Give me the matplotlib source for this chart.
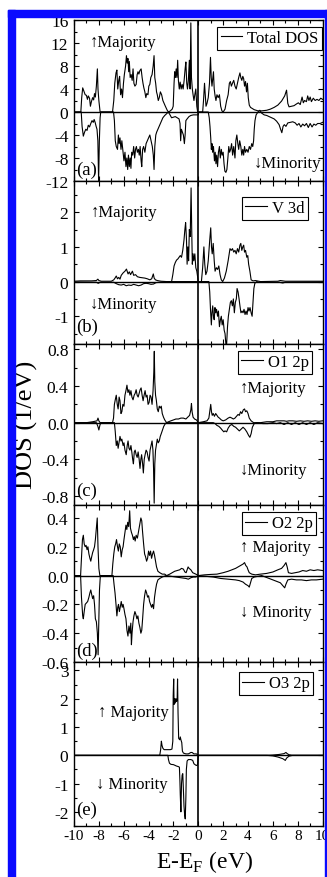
"""Spin-resolved DOS panels (total, V 3d, O1/O2/O3 2p)."""
import matplotlib
matplotlib.use("Agg")
import matplotlib.pyplot as plt
from matplotlib.patches import Rectangle
from matplotlib.ticker import MultipleLocator

plt.rcParams['font.family'] = ['Liberation Serif', 'DejaVu Serif']
plt.rcParams['mathtext.fontset'] = 'custom'
plt.rcParams['mathtext.rm'] = 'Liberation Serif'
plt.rcParams['axes.unicode_minus'] = False

# ---- data: (E - E_F [eV], DOS [1/eV]) ----
total_up = [(-10.0, 0), (-9.45, 0), (-9.38, 2.5), (-9.3, 4.2), (-9.2, 3.6), (-9.1, 3.0), (-9.0, 2.9),
            (-8.92, 2.2), (-8.85, 2.8), (-8.75, 2.4), (-8.68, 1.0), (-8.6, 1.8), (-8.5, 2.5), (-8.42, 2.1),
            (-8.35, 3.2), (-8.28, 2.6), (-8.2, 4.5), (-8.12, 7.5), (-8.07, 4.0), (-8.0, 2.0), (-7.9, 0),
            (-6.9, 0), (-6.8, 2.0), (-6.72, 5.0), (-6.62, 6.8), (-6.55, 7.3), (-6.48, 4.0), (-6.4, 5.5),
            (-6.33, 6.2), (-6.25, 3.0), (-6.17, 4.0), (-6.1, 2.5), (-6.02, 5.0), (-5.95, 6.5), (-5.85, 8.0),
            (-5.78, 9.8), (-5.72, 8.5), (-5.66, 9.3), (-5.6, 7.0), (-5.55, 8.8), (-5.48, 6.0), (-5.4, 6.5),
            (-5.32, 5.5), (-5.25, 7.5), (-5.18, 5.0), (-5.1, 4.5), (-5.0, 4.8), (-4.92, 6.5), (-4.85, 7.0),
            (-4.78, 6.6), (-4.7, 7.2), (-4.6, 7.5), (-4.52, 6.0), (-4.45, 5.0), (-4.38, 4.2), (-4.3, 3.5),
            (-4.22, 2.5), (-4.15, 3.2), (-4.05, 3.0), (-3.98, 4.5), (-3.9, 4.8), (-3.82, 6.0), (-3.72, 6.5),
            (-3.63, 8.0), (-3.56, 9.8), (-3.5, 6.0), (-3.43, 5.0), (-3.36, 3.5), (-3.3, 3.0), (-3.22, 2.0),
            (-3.14, 2.5), (-3.05, 3.5), (-2.95, 3.0), (-2.85, 2.0), (-2.75, 1.5), (-2.65, 1.0), (-2.5, 0.3),
            (-2.4, 0.0), (-2.25, 0.2), (-2.1, 0.5), (-2.02, 1.0), (-1.95, 5.0), (-1.9, 7.0), (-1.84, 6.0),
            (-1.78, 7.5), (-1.72, 6.0), (-1.66, 9.0), (-1.6, 5.5), (-1.53, 4.0), (-1.46, 5.2), (-1.38, 4.0),
            (-1.3, 4.8), (-1.22, 4.0), (-1.14, 5.5), (-1.06, 7.5), (-1.0, 8.7), (-0.93, 5.0), (-0.87, 4.0),
            (-0.8, 5.5), (-0.72, 9.0), (-0.66, 4.0), (-0.6, 15.5), (-0.55, 6.0), (-0.48, 4.0), (-0.42, 3.0),
            (-0.35, 2.0), (-0.28, 3.0), (-0.2, 4.0), (-0.12, 1.0), (-0.05, 0.0), (0.35, 0), (0.42, 2.0),
            (0.5, 5.0), (0.56, 3.0), (0.62, 1.0), (0.7, 1.5), (0.8, 2.5), (0.9, 5.0), (0.98, 9.5),
            (1.04, 6.0), (1.1, 4.5), (1.15, 5.5), (1.22, 7.0), (1.28, 4.0), (1.35, 2.8), (1.42, 2.0),
            (1.5, 3.0), (1.6, 2.5), (1.7, 3.0), (1.8, 1.0), (1.9, 0.2), (2.0, 0.0), (2.15, 0.5), (2.28, 2.0),
            (2.4, 3.0), (2.5, 5.0), (2.58, 5.3), (2.66, 4.5), (2.75, 5.0), (2.85, 5.5), (2.95, 4.5),
            (3.05, 4.0), (3.15, 5.0), (3.25, 6.0), (3.35, 6.8), (3.42, 6.0), (3.5, 5.5), (3.58, 6.2),
            (3.65, 5.8), (3.72, 4.5), (3.8, 5.3), (3.88, 3.5), (3.95, 5.0), (4.02, 2.5), (4.1, 1.2),
            (4.2, 0.8), (4.35, 0.6), (4.5, 0.4), (4.8, 0.2), (5.1, 0.2), (5.5, 0.3), (5.8, 0.5), (6.1, 0.8),
            (6.4, 1.2), (6.7, 1.9), (6.95, 2.8), (7.1, 3.8), (7.2, 1.5), (7.3, 0.9), (7.5, 1.0), (7.7, 1.1),
            (7.9, 1.4), (8.05, 1.6), (8.2, 1.3), (8.35, 2.6), (8.45, 1.6), (8.55, 2.0), (8.7, 1.8),
            (8.8, 2.8), (8.9, 2.0), (9.0, 2.6), (9.1, 1.8), (9.25, 2.4), (9.4, 2.0), (9.55, 2.2),
            (9.7, 2.0), (9.85, 2.4), (10.0, 2.2)]

total_dn = [(-10.0, 0), (-9.42, 0), (-9.35, -2.5), (-9.25, -4.2), (-9.15, -3.5), (-9.05, -3.0),
            (-8.95, -3.2), (-8.85, -2.3), (-8.75, -2.6), (-8.65, -2.0), (-8.55, -1.5), (-8.45, -1.8),
            (-8.38, -1.3), (-8.3, -1.8), (-8.22, -2.5), (-8.15, -3.0), (-8.08, -5.0), (-8.02, -12.0),
            (-7.96, -5.0), (-7.9, -1.0), (-7.85, 0), (-6.82, 0), (-6.75, -1.5), (-6.68, -5.0), (-6.6, -6.0),
            (-6.5, -6.5), (-6.43, -4.0), (-6.37, -5.5), (-6.3, -4.5), (-6.22, -6.5), (-6.15, -5.0),
            (-6.05, -7.0), (-5.98, -8.5), (-5.9, -7.0), (-5.82, -9.5), (-5.75, -8.0), (-5.68, -10.0),
            (-5.62, -7.5), (-5.55, -9.5), (-5.48, -8.0), (-5.42, -9.8), (-5.36, -7.0), (-5.28, -7.5),
            (-5.2, -6.0), (-5.12, -8.0), (-5.05, -6.5), (-4.98, -6.0), (-4.9, -7.0), (-4.82, -6.5),
            (-4.75, -7.5), (-4.68, -6.0), (-4.6, -8.5), (-4.55, -9.5), (-4.48, -6.5), (-4.4, -6.0),
            (-4.3, -7.0), (-4.2, -5.5), (-4.1, -5.0), (-4.0, -4.5), (-3.9, -4.0), (-3.8, -5.0), (-3.7, -6.0),
            (-3.62, -7.5), (-3.56, -10.0), (-3.5, -6.0), (-3.42, -4.0), (-3.35, -3.5), (-3.25, -3.0),
            (-3.15, -2.5), (-3.05, -2.0), (-2.95, -1.5), (-2.85, -1.0), (-2.7, -0.6), (-2.55, -0.3),
            (-2.42, 0.0), (-2.3, -0.4), (-2.15, -1.0), (-2.0, -0.9), (-1.85, -0.8), (-1.7, -1.0),
            (-1.55, -1.2), (-1.47, -2.0), (-1.42, -5.0), (-1.36, -3.0), (-1.28, -3.5), (-1.2, -4.0),
            (-1.12, -5.5), (-1.06, -4.0), (-1.0, -1.5), (-0.9, -1.2), (-0.75, -0.8), (-0.6, -0.6),
            (-0.4, -0.5), (-0.2, -0.5), (0.0, -0.5), (0.02, 0), (0.8, 0), (0.88, -1.0), (0.94, -2.5),
            (1.0, -4.5), (1.05, -6.5), (1.1, -5.5), (1.15, -7.0), (1.22, -6.0), (1.3, -8.5), (1.36, -7.0),
            (1.42, -9.0), (1.48, -7.5), (1.55, -9.5), (1.62, -7.0), (1.7, -6.0), (1.77, -8.0), (1.85, -6.5),
            (1.92, -7.5), (2.0, -7.0), (2.07, -9.0), (2.14, -10.3), (2.22, -10.5), (2.3, -10.0),
            (2.38, -8.0), (2.45, -6.0), (2.52, -7.0), (2.6, -6.5), (2.68, -5.5), (2.76, -7.5), (2.85, -6.0),
            (2.95, -8.0), (3.02, -5.0), (3.1, -4.0), (3.18, -5.5), (3.25, -6.5), (3.33, -5.0), (3.42, -6.0),
            (3.5, -7.5), (3.58, -6.5), (3.65, -7.5), (3.72, -6.0), (3.8, -7.0), (3.9, -6.5), (4.0, -7.0),
            (4.1, -6.0), (4.2, -6.5), (4.3, -5.5), (4.38, -6.0), (4.45, -5.0), (4.5, -3.0), (4.56, -1.5),
            (4.65, -0.5), (4.8, 0.0), (4.95, 0.3), (5.1, -0.2), (5.3, -0.5), (5.5, -0.6), (5.7, -0.8),
            (5.9, -1.0), (6.1, -1.2), (6.3, -1.6), (6.5, -2.2), (6.62, -3.0), (6.72, -3.6), (6.82, -2.5),
            (6.92, -2.2), (7.05, -2.5), (7.2, -1.9), (7.4, -1.8), (7.6, -1.7), (7.8, -1.9), (7.95, -2.3),
            (8.1, -2.0), (8.25, -2.6), (8.4, -2.1), (8.55, -2.4), (8.7, -2.0), (8.85, -2.7), (9.0, -2.0),
            (9.15, -2.6), (9.3, -2.1), (9.45, -2.3), (9.6, -2.0), (9.8, -2.0), (10.0, -1.8)]

v3d_up = [(-10.0, 0.01), (-9.5, 0.02), (-8.6, 0.02), (-8.2, 0.03), (-8.08, 0.07), (-8.0, 0.03),
          (-7.8, 0.01), (-7.0, 0.01), (-6.8, 0.05), (-6.7, 0.1), (-6.6, 0.16), (-6.5, 0.08), (-6.4, 0.12),
          (-6.3, 0.07), (-6.2, 0.18), (-6.05, 0.25), (-5.9, 0.3), (-5.78, 0.36), (-5.65, 0.22),
          (-5.55, 0.28), (-5.45, 0.2), (-5.3, 0.3), (-5.2, 0.18), (-5.05, 0.2), (-4.9, 0.14), (-4.7, 0.12),
          (-4.5, 0.11), (-4.3, 0.1), (-4.1, 0.08), (-3.9, 0.05), (-3.75, 0.08), (-3.62, 0.22),
          (-3.55, 0.1), (-3.45, 0.05), (-3.3, 0.03), (-3.0, 0.01), (-2.55, 0.0), (-2.15, 0.0),
          (-2.05, 0.2), (-1.95, 0.45), (-1.85, 0.55), (-1.75, 0.62), (-1.65, 0.65), (-1.55, 0.7),
          (-1.45, 0.75), (-1.35, 0.7), (-1.25, 0.9), (-1.15, 1.2), (-1.08, 1.5), (-1.02, 1.7),
          (-0.95, 1.2), (-0.9, 0.5), (-0.84, 1.0), (-0.78, 0.6), (-0.72, 1.5), (-0.65, 1.3), (-0.58, 2.7),
          (-0.53, 1.5), (-0.48, 0.5), (-0.42, 0.8), (-0.36, 0.6), (-0.28, 0.8), (-0.2, 0.4), (-0.12, 0.3),
          (0.0, 0.0), (0.25, 0.0), (0.35, 0.4), (0.45, 1.0), (0.52, 0.5), (0.6, 0.2), (0.7, 0.3),
          (0.8, 0.6), (0.92, 1.2), (1.0, 1.55), (1.06, 1.0), (1.12, 0.8), (1.2, 1.1), (1.28, 0.6),
          (1.35, 0.3), (1.45, 0.4), (1.55, 0.35), (1.65, 0.45), (1.75, 0.2), (1.85, 0.05), (1.96, 0.0),
          (2.1, 0.1), (2.25, 0.3), (2.4, 0.6), (2.55, 0.95), (2.65, 0.9), (2.75, 0.95), (2.85, 0.85),
          (2.95, 0.9), (3.05, 0.8), (3.15, 0.95), (3.25, 0.85), (3.35, 1.05), (3.42, 1.1), (3.5, 0.9),
          (3.58, 1.0), (3.65, 1.05), (3.72, 0.85), (3.8, 0.9), (3.9, 0.7), (3.98, 0.75), (4.05, 0.5),
          (4.15, 0.3), (4.25, 0.05), (4.4, 0.02), (4.6, 0.03), (5.0, 0.0), (6.4, 0.01), (6.6, 0.03),
          (6.8, 0.02), (7.0, 0.01), (8.0, 0.01), (10.0, 0.01)]

v3d_dn = [(-10.0, -0.01), (-8.2, -0.02), (-8.05, -0.05), (-7.9, -0.02), (-6.8, -0.02), (-6.6, -0.06),
          (-6.4, -0.09), (-6.2, -0.1), (-6.0, -0.08), (-5.8, -0.12), (-5.6, -0.1), (-5.4, -0.11),
          (-5.2, -0.08), (-5.0, -0.1), (-4.8, -0.12), (-4.6, -0.1), (-4.4, -0.06), (-4.2, -0.05),
          (-4.0, -0.06), (-3.8, -0.08), (-3.6, -0.07), (-3.4, -0.03), (-3.1, -0.02), (-2.5, 0.0),
          (0.0, 0.0), (0.85, 0.0), (0.92, -0.3), (0.98, -0.8), (1.05, -1.25), (1.1, -0.9), (1.16, -0.7),
          (1.22, -1.0), (1.28, -1.1), (1.34, -0.75), (1.4, -0.9), (1.47, -0.8), (1.55, -1.0),
          (1.62, -0.85), (1.7, -1.3), (1.78, -1.1), (1.85, -1.0), (1.92, -1.25), (2.0, -1.1),
          (2.08, -1.4), (2.15, -1.5), (2.22, -1.8), (2.28, -1.8), (2.35, -1.3), (2.42, -1.0), (2.5, -0.8),
          (2.58, -0.6), (2.66, -0.55), (2.74, -0.7), (2.82, -0.5), (2.9, -0.9), (2.98, -0.6),
          (3.06, -0.5), (3.12, -0.2), (3.2, -0.3), (3.28, -0.5), (3.35, -0.7), (3.43, -0.9),
          (3.52, -0.85), (3.6, -0.9), (3.68, -0.8), (3.76, -0.95), (3.84, -0.85), (3.92, -0.95),
          (4.0, -0.75), (4.08, -0.85), (4.16, -0.75), (4.25, -0.9), (4.33, -1.0), (4.4, -0.6),
          (4.47, -0.2), (4.55, -0.05), (4.7, 0.0), (4.85, -0.02), (5.5, -0.02), (6.5, -0.02),
          (6.8, -0.04), (7.0, -0.02), (10.0, -0.01)]

o1_up = [(-10.0, 0.0), (-9.0, 0.0), (-8.5, 0.01), (-8.15, 0.02), (-8.07, 0.05), (-8.0, 0.02), (-7.9, 0.0),
         (-6.9, 0.0), (-6.82, 0.05), (-6.75, 0.2), (-6.68, 0.25), (-6.6, 0.3), (-6.52, 0.2), (-6.45, 0.15),
         (-6.37, 0.28), (-6.3, 0.24), (-6.22, 0.1), (-6.15, 0.12), (-6.07, 0.2), (-5.98, 0.18),
         (-5.9, 0.3), (-5.82, 0.35), (-5.74, 0.41), (-5.66, 0.33), (-5.58, 0.36), (-5.5, 0.3),
         (-5.42, 0.35), (-5.34, 0.28), (-5.25, 0.25), (-5.16, 0.3), (-5.08, 0.32), (-5.0, 0.36),
         (-4.92, 0.3), (-4.84, 0.28), (-4.76, 0.32), (-4.68, 0.36), (-4.6, 0.38), (-4.52, 0.3),
         (-4.44, 0.24), (-4.36, 0.3), (-4.28, 0.35), (-4.2, 0.28), (-4.12, 0.3), (-4.04, 0.2),
         (-3.96, 0.22), (-3.88, 0.3), (-3.8, 0.28), (-3.72, 0.2), (-3.64, 0.35), (-3.58, 0.55),
         (-3.54, 0.78), (-3.5, 0.45), (-3.44, 0.3), (-3.38, 0.25), (-3.3, 0.15), (-3.22, 0.12),
         (-3.14, 0.18), (-3.06, 0.16), (-2.98, 0.18), (-2.9, 0.1), (-2.8, 0.06), (-2.7, 0.03),
         (-2.55, 0.0), (-2.4, 0.01), (-2.2, 0.02), (-2.0, 0.03), (-1.8, 0.04), (-1.6, 0.04), (-1.4, 0.05),
         (-1.2, 0.05), (-1.0, 0.04), (-0.85, 0.06), (-0.7, 0.08), (-0.6, 0.14), (-0.55, 0.21),
         (-0.5, 0.12), (-0.42, 0.06), (-0.3, 0.04), (-0.15, 0.03), (0.0, 0.0), (0.4, 0.01), (0.7, 0.02),
         (0.85, 0.05), (0.95, 0.15), (1.0, 0.2), (1.06, 0.12), (1.12, 0.08), (1.2, 0.1), (1.3, 0.07),
         (1.4, 0.1), (1.5, 0.08), (1.6, 0.06), (1.7, 0.05), (1.85, 0.03), (2.0, 0.02), (2.2, 0.03),
         (2.4, 0.05), (2.55, 0.06), (2.7, 0.05), (2.82, 0.04), (2.95, 0.05), (3.08, 0.07), (3.2, 0.09),
         (3.3, 0.08), (3.4, 0.12), (3.5, 0.1), (3.62, 0.14), (3.72, 0.15), (3.8, 0.12), (3.9, 0.13),
         (4.0, 0.1), (4.1, 0.05), (4.25, 0.02), (4.45, 0.0), (5.0, 0.0), (5.5, 0.01), (6.0, 0.01),
         (6.3, 0.02), (6.6, 0.02), (6.9, 0.02), (7.1, 0.015), (7.3, 0.02), (7.6, 0.02), (7.9, 0.015),
         (8.2, 0.02), (8.5, 0.015), (8.8, 0.02), (9.1, 0.015), (9.4, 0.02), (9.7, 0.015), (10.0, 0.02)]

o1_dn = [(-10.0, 0), (-8.2, 0), (-8.08, -0.04), (-8.0, -0.08), (-7.92, -0.03), (-7.85, 0), (-6.75, 0),
         (-6.68, -0.1), (-6.6, -0.25), (-6.52, -0.2), (-6.45, -0.28), (-6.38, -0.22), (-6.3, -0.15),
         (-6.22, -0.2), (-6.15, -0.18), (-6.05, -0.25), (-5.98, -0.22), (-5.9, -0.3), (-5.8, -0.35),
         (-5.72, -0.25), (-5.65, -0.2), (-5.58, -0.28), (-5.5, -0.3), (-5.42, -0.25), (-5.35, -0.32),
         (-5.28, -0.4), (-5.22, -0.45), (-5.15, -0.32), (-5.08, -0.3), (-5.0, -0.35), (-4.92, -0.38),
         (-4.84, -0.32), (-4.76, -0.4), (-4.69, -0.5), (-4.62, -0.4), (-4.56, -0.35), (-4.48, -0.45),
         (-4.42, -0.55), (-4.35, -0.4), (-4.28, -0.35), (-4.2, -0.3), (-4.12, -0.32), (-4.04, -0.38),
         (-3.96, -0.42), (-3.88, -0.3), (-3.8, -0.25), (-3.72, -0.2), (-3.65, -0.3), (-3.6, -0.5),
         (-3.55, -0.88), (-3.5, -0.45), (-3.44, -0.3), (-3.38, -0.25), (-3.3, -0.18), (-3.22, -0.22),
         (-3.14, -0.2), (-3.06, -0.15), (-2.98, -0.12), (-2.88, -0.08), (-2.78, -0.04), (-2.65, -0.01),
         (-2.55, 0.0), (0.0, 0.0), (1.2, 0.0), (1.35, -0.01), (1.5, -0.03), (1.65, -0.04), (1.8, -0.06),
         (1.92, -0.08), (2.05, -0.1), (2.15, -0.09), (2.28, -0.1), (2.4, -0.06), (2.55, -0.03),
         (2.7, -0.02), (2.85, -0.04), (3.0, -0.05), (3.15, -0.07), (3.3, -0.09), (3.45, -0.07),
         (3.6, -0.05), (3.75, -0.07), (3.9, -0.1), (4.05, -0.14), (4.15, -0.16), (4.25, -0.12),
         (4.35, -0.05), (4.5, -0.01), (4.7, 0.0), (5.2, -0.01), (5.6, -0.01), (6.0, 0.0), (6.3, -0.01),
         (6.6, 0.0), (6.9, -0.02), (7.2, 0.0), (7.5, -0.02), (7.8, 0.0), (8.1, -0.02), (8.4, 0.0),
         (8.7, -0.02), (9.0, 0.0), (9.3, -0.02), (9.6, 0.0), (10.0, -0.01)]

o2_up = [(-10.0, 0), (-9.47, 0), (-9.4, 0.12), (-9.32, 0.25), (-9.25, 0.28), (-9.18, 0.22), (-9.1, 0.2),
         (-9.03, 0.21), (-8.95, 0.18), (-8.88, 0.2), (-8.8, 0.15), (-8.72, 0.12), (-8.65, 0.1),
         (-8.58, 0.13), (-8.5, 0.16), (-8.42, 0.18), (-8.35, 0.2), (-8.28, 0.25), (-8.2, 0.33),
         (-8.13, 0.4), (-8.07, 0.2), (-8.0, 0.05), (-7.92, 0.0), (-6.95, 0.0), (-6.88, 0.08), (-6.8, 0.15),
         (-6.72, 0.2), (-6.65, 0.22), (-6.58, 0.25), (-6.5, 0.2), (-6.43, 0.17), (-6.36, 0.22),
         (-6.28, 0.2), (-6.2, 0.13), (-6.12, 0.18), (-6.05, 0.2), (-5.98, 0.25), (-5.9, 0.3),
         (-5.82, 0.35), (-5.75, 0.32), (-5.68, 0.37), (-5.6, 0.34), (-5.52, 0.45), (-5.46, 0.33),
         (-5.38, 0.3), (-5.3, 0.28), (-5.22, 0.25), (-5.15, 0.27), (-5.08, 0.24), (-5.0, 0.28),
         (-4.9, 0.26), (-4.82, 0.3), (-4.72, 0.35), (-4.62, 0.4), (-4.55, 0.38), (-4.48, 0.3),
         (-4.4, 0.22), (-4.32, 0.15), (-4.24, 0.13), (-4.16, 0.1), (-4.08, 0.12), (-4.0, 0.17),
         (-3.92, 0.14), (-3.84, 0.17), (-3.76, 0.12), (-3.68, 0.15), (-3.6, 0.17), (-3.52, 0.14),
         (-3.44, 0.1), (-3.36, 0.06), (-3.25, 0.03), (-3.1, 0.02), (-2.9, 0.01), (-2.7, 0.01),
         (-2.55, 0.0), (-2.3, 0.01), (-2.1, 0.02), (-1.9, 0.03), (-1.7, 0.035), (-1.5, 0.04),
         (-1.35, 0.05), (-1.2, 0.045), (-1.08, 0.025), (-0.98, 0.02), (-0.9, 0.04), (-0.82, 0.06),
         (-0.74, 0.05), (-0.6, 0.04), (-0.45, 0.02), (-0.2, 0.01), (0.0, 0.0), (0.5, 0.005), (1.0, 0.008),
         (1.5, 0.01), (2.0, 0.02), (2.4, 0.03), (2.7, 0.04), (3.0, 0.05), (3.2, 0.06), (3.4, 0.07),
         (3.6, 0.08), (3.72, 0.09), (3.82, 0.07), (3.92, 0.06), (4.0, 0.04), (4.1, 0.02), (4.3, 0.01),
         (4.6, 0.005), (5.0, 0.01), (5.5, 0.015), (6.0, 0.025), (6.4, 0.04), (6.7, 0.05), (6.9, 0.07),
         (7.05, 0.09), (7.15, 0.06), (7.25, 0.02), (7.5, 0.015), (7.8, 0.02), (8.1, 0.025), (8.4, 0.035),
         (8.7, 0.03), (9.0, 0.04), (9.3, 0.035), (9.6, 0.04), (10.0, 0.035)]

o2_dn = [(-10.0, 0), (-9.47, 0), (-9.4, -0.15), (-9.3, -0.28), (-9.25, -0.3), (-9.18, -0.25),
         (-9.1, -0.2), (-9.0, -0.19), (-8.9, -0.18), (-8.8, -0.15), (-8.72, -0.12), (-8.65, -0.1),
         (-8.58, -0.13), (-8.5, -0.16), (-8.42, -0.14), (-8.35, -0.2), (-8.28, -0.3), (-8.2, -0.32),
         (-8.12, -0.4), (-8.06, -0.55), (-8.0, -0.3), (-7.95, -0.1), (-7.88, 0.0), (-6.85, 0.0),
         (-6.78, -0.06), (-6.7, -0.12), (-6.62, -0.2), (-6.55, -0.28), (-6.48, -0.22), (-6.42, -0.2),
         (-6.35, -0.25), (-6.28, -0.22), (-6.2, -0.18), (-6.12, -0.22), (-6.05, -0.2), (-5.98, -0.23),
         (-5.9, -0.27), (-5.82, -0.3), (-5.74, -0.38), (-5.66, -0.42), (-5.58, -0.35), (-5.5, -0.4),
         (-5.43, -0.33), (-5.38, -0.48), (-5.33, -0.4), (-5.25, -0.32), (-5.18, -0.28), (-5.1, -0.25),
         (-5.02, -0.27), (-4.94, -0.3), (-4.86, -0.28), (-4.78, -0.33), (-4.7, -0.36), (-4.62, -0.4),
         (-4.55, -0.38), (-4.48, -0.3), (-4.4, -0.2), (-4.32, -0.14), (-4.24, -0.1), (-4.16, -0.12),
         (-4.08, -0.15), (-4.0, -0.14), (-3.92, -0.18), (-3.84, -0.2), (-3.76, -0.22), (-3.68, -0.2),
         (-3.6, -0.23), (-3.52, -0.15), (-3.44, -0.1), (-3.36, -0.06), (-3.25, -0.03), (-3.1, -0.02),
         (-2.9, -0.01), (-2.6, 0.0), (-2.2, -0.005), (-1.8, -0.01), (-1.4, -0.015), (-1.0, -0.02),
         (-0.8, -0.025), (-0.6, -0.015), (-0.4, -0.01), (-0.2, -0.01), (0.0, 0.0), (0.6, -0.005),
         (1.2, -0.01), (1.8, -0.02), (2.4, -0.025), (3.0, -0.03), (3.3, -0.035), (3.6, -0.045),
         (3.8, -0.06), (4.0, -0.07), (4.1, -0.08), (4.2, -0.05), (4.3, -0.02), (4.5, -0.01),
         (4.8, -0.005), (5.1, 0.0), (5.4, -0.01), (5.7, -0.02), (6.0, -0.03), (6.3, -0.04), (6.6, -0.05),
         (6.8, -0.07), (6.95, -0.085), (7.05, -0.06), (7.2, -0.03), (7.5, -0.025), (7.9, -0.03),
         (8.3, -0.03), (8.7, -0.035), (9.1, -0.03), (9.5, -0.03), (10.0, -0.025)]

o3_up = [(-10.0, 0), (-3.1, 0), (-3.03, 0.2), (-2.97, 0.5), (-2.92, 0.35), (-2.85, 0.25), (-2.75, 0.2),
         (-2.5, 0.2), (-2.25, 0.2), (-2.12, 0.22), (-2.05, 0.5), (-2.02, 2.1), (-1.98, 2.7), (-1.95, 1.8),
         (-1.9, 2.0), (-1.85, 1.85), (-1.8, 2.0), (-1.75, 1.9), (-1.7, 2.0), (-1.67, 2.7), (-1.63, 1.5),
         (-1.58, 0.6), (-1.5, 0.55), (-1.45, 0.65), (-1.4, 0.55), (-1.33, 0.45), (-1.28, 0.15),
         (-1.2, 0.08), (-1.0, 0.05), (-0.8, 0.05), (-0.6, 0.1), (-0.5, 0.1), (-0.35, 0.05),
         (-0.15, 0.05), (0.0, 0.0), (5.5, 0.0), (6.0, 0.01), (6.5, 0.03), (6.9, 0.06), (7.05, 0.1),
         (7.15, 0.06), (7.3, 0.02), (7.6, 0.0), (10.0, 0.0)]

o3_dn = [(-10.0, 0), (-2.45, 0), (-2.4, -0.15), (-2.32, -0.28), (-2.2, -0.32), (-2.0, -0.33),
         (-1.9, -0.35), (-1.75, -0.38), (-1.6, -0.4), (-1.52, -0.42), (-1.48, -0.9), (-1.45, -1.4),
         (-1.4, -2.0), (-1.35, -1.0), (-1.3, -0.7), (-1.25, -0.65), (-1.2, -1.2), (-1.15, -1.8),
         (-1.1, -2.1), (-1.05, -2.25), (-1.0, -1.5), (-0.96, -0.5), (-0.9, -0.2), (-0.8, -0.15),
         (-0.6, -0.15), (-0.45, -0.18), (-0.35, -0.3), (-0.2, -0.35), (-0.1, -0.36), (-0.05, -0.3),
         (0.0, 0.0), (5.5, 0.0), (6.0, -0.02), (6.4, -0.06), (6.8, -0.12), (7.0, -0.18), (7.1, -0.1),
         (7.3, -0.03), (7.6, 0.0), (10.0, 0.0)]

labels = ["Total DOS", "V 3d", "O1 2p", "O2 2p", "O3 2p"]
tags = ["(a)", "(b)", "(c)", "(d)", "(e)"]
ylims = [(-12, 16), (-1.8, 2.9), (-0.9, 0.86), (-0.6, 0.49), (-2.5, 3.3)]
yticks = [[-12, -8, -4, 0, 4, 8, 12, 16], [-1, 0, 1, 2], [-0.8, -0.4, 0.0, 0.4, 0.8],
          [-0.6, -0.4, -0.2, 0.0, 0.2, 0.4], [-2, -1, 0, 1, 2, 3]]
yfmt = ["{:.0f}", "{:.0f}", "{:.1f}", "{:.1f}", "{:.0f}"]
series = [(total_up, total_dn), (v3d_up, v3d_dn), (o1_up, o1_dn), (o2_up, o2_dn), (o3_up, o3_dn)]

# layout in pixels of a 327x878 image
W, H = 327.0, 878.0
x0, x1 = 74.0, 322.6
rows = [(21, 182), (182, 345), (345, 506), (506, 663), (663, 827)]
legend_anchor = [(0.997, 0.957), (0.941, 0.902), (0.957, 0.957), (0.973, 0.955), (0.961, 0.939)]
# (x, y) of the Majority / Minority notes and the panel tag, in data units
maj_pos = [(-8.7, 12.1), (-8.65, 2.0), (3.3, 0.375), (3.35, 0.2), (-8.1, 1.53)]
min_pos = [(4.45, -8.9), (-8.75, -0.64), (3.35, -0.52), (3.35, -0.256), (-8.2, -1.0)]
tag_y = [-10.0, -1.3, -0.74, -0.52, -1.9]
spaced = [False, False, False, True, True]

fig = plt.figure(figsize=(W / 100, H / 100), dpi=100)

for i, (top, bot) in enumerate(rows):
    ax = fig.add_axes([x0 / W, 1 - bot / H, (x1 - x0) / W, (bot - top) / H])
    up, dn = series[i]
    ax.plot([p[0] for p in up], [p[1] for p in up], color="black", lw=0.8)
    ax.plot([p[0] for p in dn], [p[1] for p in dn], color="black", lw=0.8)
    ax.axhline(0, color="black", lw=1.0, zorder=3)
    ax.axvline(0, color="black", lw=1.2, zorder=3)
    ax.set_xlim(-10, 10)
    ax.set_ylim(*ylims[i])
    ax.set_yticks(yticks[i])
    ax.set_yticklabels([yfmt[i].format(v) for v in yticks[i]])
    ax.xaxis.set_major_locator(MultipleLocator(2))
    ax.xaxis.set_minor_locator(MultipleLocator(1))
    step = yticks[i][1] - yticks[i][0]
    ax.yaxis.set_minor_locator(MultipleLocator(step / 2))
    ax.tick_params(which="both", direction="in", top=True, right=True, width=0.8)
    ax.tick_params(axis="y", labelsize=12.5, pad=4)
    ax.tick_params(axis="x", labelsize=11, pad=2)
    ax.tick_params(which="major", length=3.5)
    ax.tick_params(which="minor", length=2)
    for sp in ax.spines.values():
        sp.set_linewidth(1.0)
    if i < 4:
        ax.tick_params(labelbottom=False)
    else:
        ax.set_xticks([-10, -8, -6, -4, -2, 0, 2, 4, 6, 8, 10])
        ax.set_xticklabels(["-10", "-8", "-6", "-4", "-2", "0", "2", "4", "6", "8", "10"])

    leg_line, = ax.plot([], [], color="black", lw=0.8, label=labels[i])
    leg = ax.legend(handles=[leg_line], loc="upper right", bbox_to_anchor=legend_anchor[i],
                    borderaxespad=0, fontsize=12, handlelength=1.3, handletextpad=0.3,
                    borderpad=0.2, fancybox=False, framealpha=1)
    leg.get_frame().set_edgecolor("black")
    leg.get_frame().set_linewidth(0.8)

    sep = " " if spaced[i] else ""
    ax.text(maj_pos[i][0], maj_pos[i][1], "\u2191" + sep + "Majority", fontsize=12,
            ha="left", va="center")
    ax.text(min_pos[i][0], min_pos[i][1], "\u2193" + sep + "Minority", fontsize=12,
            ha="left", va="center")
    ax.text(-9.85, tag_y[i], tags[i], fontsize=13.5, ha="left", va="center")

fig.text(26 / W, 1 - 425 / H, "DOS (1/eV)", rotation=90, fontsize=19, ha="center", va="center")
fig.text(205 / W, 1 - 862 / H, r"E-E$_\mathrm{F}$ (eV)", fontsize=17, ha="center", va="center")

# blue scan frame around the figure
blue = "#0a0aff"
fig.patches.append(Rectangle((8 / W, 0), 7 / W, 1 - 11 / H, transform=fig.transFigure,
                             color=blue, zorder=10))
fig.patches.append(Rectangle((8 / W, 1 - 18 / H), 1 - 8 / W, 7 / H, transform=fig.transFigure,
                             color=blue, zorder=10))
fig.patches.append(Rectangle((325 / W, 0), 2 / W, 1 - 11 / H, transform=fig.transFigure,
                             color=blue, zorder=10))

fig.savefig("out.png", dpi=100)
